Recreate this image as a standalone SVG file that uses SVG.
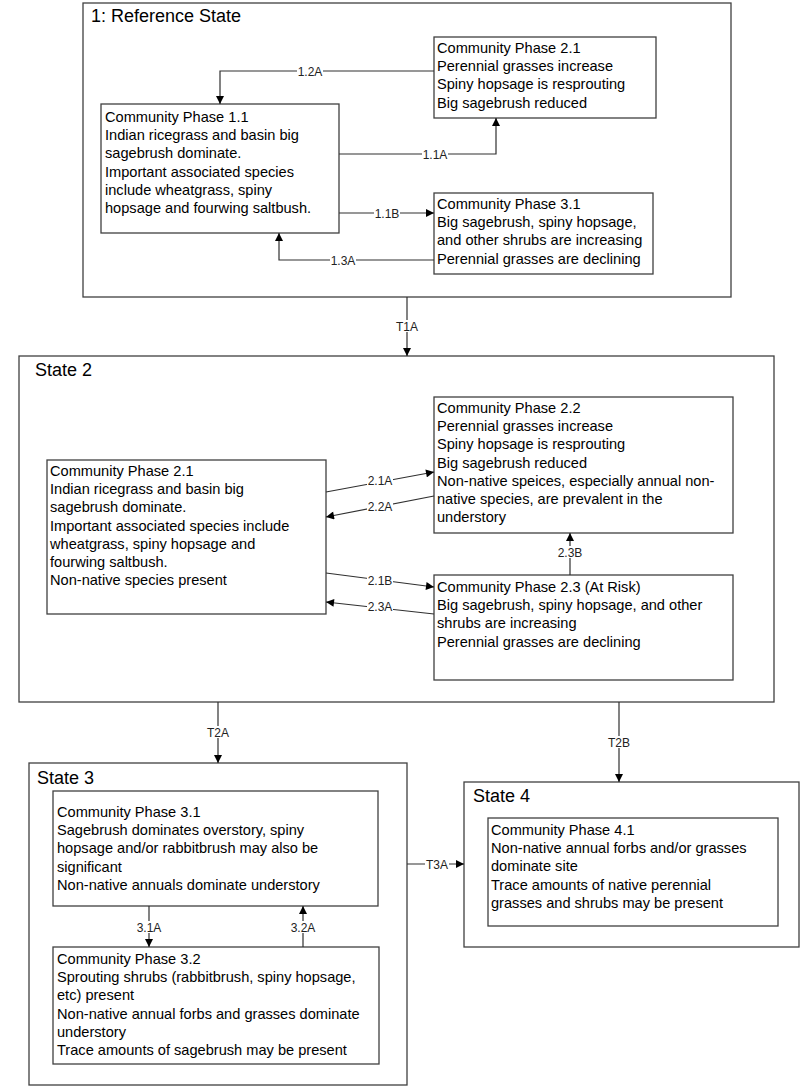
<svg xmlns="http://www.w3.org/2000/svg" width="800" height="1086" viewBox="0 0 800 1086">
<defs>
<marker id="arr" viewBox="0 0 10 10" refX="10" refY="5" markerWidth="9" markerHeight="8" markerUnits="userSpaceOnUse" orient="auto">
<path d="M0,0 L10,5 L0,10 z" fill="#000"/>
</marker>
<style>
.state{fill:#fff;stroke:#404040;stroke-width:1.3}
.box{fill:#fff;stroke:#404040;stroke-width:1.3}
.title{font-family:"Liberation Sans",Arial,sans-serif;font-size:18px;fill:#000}
.t{font-family:"Liberation Sans",Arial,sans-serif;font-size:14.6px;fill:#000}
.c{fill:none;stroke:#303030;stroke-width:1.2}
.a{marker-end:url(#arr)}
.bg{fill:#fff;stroke:none}
.lbl{font-family:"Liberation Sans",Arial,sans-serif;font-size:12px;fill:#222;text-anchor:middle}
</style>
</defs>
<rect width="800" height="1086" fill="#fff"/>

<g id="state1">
<rect class="state" x="83" y="3" width="648" height="294"/>
<text class="title" x="91" y="22">1: Reference State</text>
</g>
<g id="state2">
<rect class="state" x="19" y="356" width="755" height="346"/>
<text class="title" x="35" y="376">State 2</text>
</g>
<g id="state3">
<rect class="state" x="29" y="763" width="378" height="322"/>
<text class="title" x="37" y="784">State 3</text>
</g>
<g id="state4">
<rect class="state" x="464" y="782" width="335" height="165"/>
<text class="title" x="473" y="802">State 4</text>
</g>

<g id="phase1-2_1">
<rect class="box" x="434" y="37" width="222" height="81"/>
<text class="t" x="437" y="53"><tspan x="437">Community Phase 2.1</tspan><tspan x="437" dy="18.2">Perennial grasses increase</tspan><tspan x="437" dy="18.2">Spiny hopsage is resprouting</tspan><tspan x="437" dy="18.2">Big sagebrush reduced</tspan></text>
</g>
<g id="phase1-1_1">
<rect class="box" x="101" y="104" width="238" height="129"/>
<text class="t" x="105" y="122"><tspan x="105">Community Phase 1.1</tspan><tspan x="105" dy="18.2">Indian ricegrass and basin big</tspan><tspan x="105" dy="18.2">sagebrush dominate.</tspan><tspan x="105" dy="18.2">Important associated species</tspan><tspan x="105" dy="18.2">include wheatgrass, spiny</tspan><tspan x="105" dy="18.2">hopsage and fourwing saltbush.</tspan></text>
</g>
<g id="phase1-3_1">
<rect class="box" x="434" y="193" width="219" height="81"/>
<text class="t" x="437" y="209"><tspan x="437">Community Phase 3.1</tspan><tspan x="437" dy="18.2">Big sagebrush, spiny hopsage,</tspan><tspan x="437" dy="18.2">and other shrubs are increasing</tspan><tspan x="437" dy="18.2">Perennial grasses are declining</tspan></text>
</g>

<g id="phase2_1">
<rect class="box" x="47" y="460" width="279" height="154"/>
<text class="t" x="50" y="476"><tspan x="50">Community Phase 2.1</tspan><tspan x="50" dy="18.2">Indian ricegrass and basin big</tspan><tspan x="50" dy="18.2">sagebrush dominate.</tspan><tspan x="50" dy="18.2">Important associated species include</tspan><tspan x="50" dy="18.2">wheatgrass, spiny hopsage and</tspan><tspan x="50" dy="18.2">fourwing saltbush.</tspan><tspan x="50" dy="18.2">Non-native species present</tspan></text>
</g>
<g id="phase2_2">
<rect class="box" x="434" y="397" width="299" height="136"/>
<text class="t" x="437" y="413"><tspan x="437">Community Phase 2.2</tspan><tspan x="437" dy="18.2">Perennial grasses increase</tspan><tspan x="437" dy="18.2">Spiny hopsage is resprouting</tspan><tspan x="437" dy="18.2">Big sagebrush reduced</tspan><tspan x="437" dy="18.2">Non-native speices, especially annual non-</tspan><tspan x="437" dy="18.2">native species, are prevalent in the</tspan><tspan x="437" dy="18.2">understory</tspan></text>
</g>
<g id="phase2_3">
<rect class="box" x="434" y="575" width="299" height="105"/>
<text class="t" x="437" y="592"><tspan x="437">Community Phase 2.3 (At Risk)</tspan><tspan x="437" dy="18.2">Big sagebrush, spiny hopsage, and other</tspan><tspan x="437" dy="18.2">shrubs are increasing</tspan><tspan x="437" dy="18.2">Perennial grasses are declining</tspan></text>
</g>

<g id="phase3_1">
<rect class="box" x="53" y="791" width="325" height="115"/>
<text class="t" x="57" y="817"><tspan x="57">Community Phase 3.1</tspan><tspan x="57" dy="18.2">Sagebrush dominates overstory, spiny</tspan><tspan x="57" dy="18.2">hopsage and/or rabbitbrush may also be</tspan><tspan x="57" dy="18.2">significant</tspan><tspan x="57" dy="18.2">Non-native annuals dominate understory</tspan></text>
</g>
<g id="phase3_2">
<rect class="box" x="53" y="947" width="326" height="117"/>
<text class="t" x="57" y="964"><tspan x="57">Community Phase 3.2</tspan><tspan x="57" dy="18.2">Sprouting shrubs (rabbitbrush, spiny hopsage,</tspan><tspan x="57" dy="18.2">etc) present</tspan><tspan x="57" dy="18.2">Non-native annual forbs and grasses dominate</tspan><tspan x="57" dy="18.2">understory</tspan><tspan x="57" dy="18.2">Trace amounts of sagebrush may be present</tspan></text>
</g>
<g id="phase4_1">
<rect class="box" x="488" y="818" width="290" height="108"/>
<text class="t" x="491" y="835"><tspan x="491">Community Phase 4.1</tspan><tspan x="491" dy="18.2">Non-native annual forbs and/or grasses</tspan><tspan x="491" dy="18.2">dominate site</tspan><tspan x="491" dy="18.2">Trace amounts of native perennial</tspan><tspan x="491" dy="18.2">grasses and shrubs may be present</tspan></text>
</g>

<g id="connectors">
<path class="c a" d="M434,71 H220 V104"/>
<path class="c a" d="M339,154 H496 V118"/>
<path class="c a" d="M339,213 H434"/>
<path class="c a" d="M434,260 H279 V233"/>
<path class="c a" d="M407,297 V356"/>
<path class="c a" d="M326,492 L434,472"/>
<path class="c a" d="M434,496 L326,517"/>
<path class="c a" d="M326,573 L434,587"/>
<path class="c a" d="M434,614 L326,602"/>
<path class="c a" d="M570,575 V533"/>
<path class="c a" d="M218,702 V763"/>
<path class="c a" d="M619,702 V782"/>
<path class="c a" d="M149,906 V947"/>
<path class="c a" d="M303,947 V906"/>
<path class="c a" d="M407,864 H464"/>
<rect class="bg" x="297" y="65" width="26" height="12"/>
<rect class="bg" x="422" y="148" width="26" height="12"/>
<rect class="bg" x="374" y="207" width="26" height="12"/>
<rect class="bg" x="330" y="254" width="26" height="12"/>
<rect class="bg" x="395" y="320" width="24" height="12"/>
<rect class="bg" x="367" y="474" width="26" height="12"/>
<rect class="bg" x="367" y="500" width="26" height="12"/>
<rect class="bg" x="367" y="574" width="26" height="12"/>
<rect class="bg" x="367" y="600" width="26" height="12"/>
<rect class="bg" x="557" y="546" width="26" height="12"/>
<rect class="bg" x="206" y="726" width="24" height="12"/>
<rect class="bg" x="607" y="736" width="24" height="12"/>
<rect class="bg" x="136" y="921" width="26" height="12"/>
<rect class="bg" x="290" y="921" width="26" height="12"/>
<rect class="bg" x="425" y="858" width="24" height="12"/>
<text class="lbl" x="310" y="75.5">1.2A</text>
<text class="lbl" x="435" y="158.5">1.1A</text>
<text class="lbl" x="387" y="217.5">1.1B</text>
<text class="lbl" x="343" y="264.5">1.3A</text>
<text class="lbl" x="407" y="330.5">T1A</text>
<text class="lbl" x="380" y="484.5">2.1A</text>
<text class="lbl" x="380" y="510.5">2.2A</text>
<text class="lbl" x="380" y="584.5">2.1B</text>
<text class="lbl" x="380" y="610.5">2.3A</text>
<text class="lbl" x="570" y="556.5">2.3B</text>
<text class="lbl" x="218" y="736.5">T2A</text>
<text class="lbl" x="619" y="746.5">T2B</text>
<text class="lbl" x="149" y="931.5">3.1A</text>
<text class="lbl" x="303" y="931.5">3.2A</text>
<text class="lbl" x="437" y="868.5">T3A</text>
</g>
</svg>
